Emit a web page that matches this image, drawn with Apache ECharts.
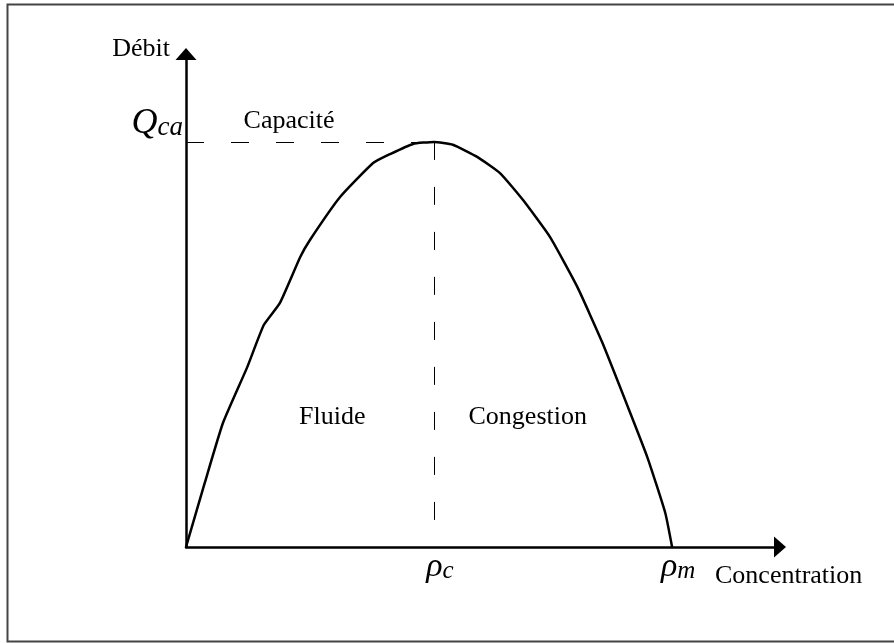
<!DOCTYPE html>
<html>
<head>
<meta charset="utf-8">
<script src="https://cdn.jsdelivr.net/npm/echarts@6/dist/echarts.min.js"></script>
<style>
    html, body { margin: 0; padding: 0; background: #fff; }
    #chart { width: 894px; height: 643px; }
</style>
</head>
<body>
<div id="chart"></div>
<script>
// diagramme fondamental : concentration -> debit (unites arbitraires, rho_m = 100, Q_ca = 100)
var concentration = [0, 3.9, 7.6, 12.6, 16.0, 19.3, 23.5, 25.5, 31.7, 38.5, 42.0, 46.7, 51,
    54.9, 59.9, 64.6, 69.3, 74.9, 80.5, 85.6, 90.9, 94.9, 98.6, 100];
var debit = [0, 16.0, 30.6, 44.4, 54.8, 60.2, 71.6, 75.8, 86.4, 94.8, 97.0, 99.5, 100,
    99.3, 96.3, 92.3, 85.7, 76.5, 64.2, 50.6, 34.6, 22.2, 8.4, 0];

var rhoC = 51;
var rhoM = 100;
var qCa = 100;

var zoneNames = ['Capacité', 'Fluide', 'Congestion'];
var zoneX = [21.2, 30.1, 70.3];
var zoneY = [105.2, 32.1, 32.1];

var FONT = '"Liberation Serif", "Times New Roman", serif';

function initChart() {
    var myChart = echarts.init(document.getElementById('chart'));

    var curve = [];
    for (var i = 0; i < concentration.length; i++) {
        curve.push([concentration[i], debit[i]]);
    }
    var zones = [];
    for (var j = 0; j < zoneNames.length; j++) {
        zones.push({name: zoneNames[j], value: [zoneX[j], zoneY[j]]});
    }

    var option = {
        backgroundColor: '#fff',
        animation: false,
        graphic: [{
            type: 'rect',
            shape: {x: 7.5, y: 4.5, width: 900, height: 637},
            style: {fill: null, stroke: '#444', lineWidth: 2},
            silent: true
        }],
        grid: {
            left: 186,
            right: 114,
            top: 54,
            bottom: 96,
            containLabel: false,
            outerBoundsMode: 'none'
        },
        xAxis: {
            type: 'value',
            min: 0,
            max: 122.2,
            name: 'Concentration',
            nameLocation: 'end',
            nameGap: -65,
            nameMoveOverlap: false,
            nameTextStyle: {
                fontFamily: FONT,
                fontSize: 26,
                color: '#000',
                align: 'left',
                verticalAlign: 'top',
                padding: [16, 0, 0, 0]
            },
            axisLine: {
                lineStyle: {color: '#000', width: 2.5},
                symbol: ['none', 'triangle'],
                symbolSize: [21, 12]
            },
            axisTick: {show: false},
            splitLine: {show: false},
            axisLabel: {
                customValues: [rhoC, rhoM],
                margin: 3,
                padding: [0, 0, 0, 12],
                formatter: function (v) {
                    return v === rhoC ? '{r|ρ}{s|c}' : '{r|ρ}{s|m}';
                },
                rich: {
                    r: {fontFamily: FONT, fontStyle: 'italic', fontSize: 34, color: '#000'},
                    s: {fontFamily: FONT, fontStyle: 'italic', fontSize: 25, lineHeight: 19,
                        verticalAlign: 'bottom', color: '#000'}
                }
            }
        },
        yAxis: {
            type: 'value',
            min: 0,
            max: 121.7,
            name: 'Débit',
            nameLocation: 'end',
            nameGap: 5,
            nameMoveOverlap: false,
            nameTextStyle: {
                fontFamily: FONT,
                fontSize: 26,
                color: '#000',
                align: 'right',
                verticalAlign: 'middle',
                padding: [0, 16, 0, 0]
            },
            axisLine: {
                lineStyle: {color: '#000', width: 2.5},
                symbol: ['none', 'triangle'],
                symbolSize: [21, 12]
            },
            axisTick: {show: false},
            splitLine: {show: false},
            axisLabel: {
                customValues: [qCa],
                margin: 3,
                verticalAlign: 'bottom',
                formatter: function () {
                    return '{q|Q}{s|ca}';
                },
                rich: {
                    q: {fontFamily: FONT, fontStyle: 'italic', fontSize: 36, color: '#000'},
                    s: {fontFamily: FONT, fontStyle: 'italic', fontSize: 27, lineHeight: 27,
                        verticalAlign: 'bottom', color: '#000'}
                }
            }
        },
        series: [
            {
                name: 'debit',
                type: 'line',
                data: curve,
                showSymbol: false,
                smooth: 0.15,
                lineStyle: {color: '#000', width: 2.5},
                z: 5,
                markLine: {
                    silent: true,
                    symbol: ['none', 'none'],
                    label: {show: false},
                    lineStyle: {color: '#000', width: 1, type: [18, 27]},
                    data: [
                        [{coord: [0, qCa]}, {coord: [rhoC, qCa]}],
                        [{coord: [rhoC, qCa]}, {coord: [rhoC, 0]}]
                    ]
                }
            },
            {
                name: 'zones',
                type: 'scatter',
                data: zones,
                symbolSize: 0,
                silent: true,
                itemStyle: {opacity: 1, color: '#000'},
                label: {
                    show: true,
                    position: 'inside',
                    formatter: '{b}',
                    fontFamily: FONT,
                    fontSize: 26,
                    color: '#000',
                    opacity: 1,
                    textBorderWidth: 0
                }
            }
        ]
    };
    myChart.setOption(option);
}

initChart();
</script>
</body>
</html>
